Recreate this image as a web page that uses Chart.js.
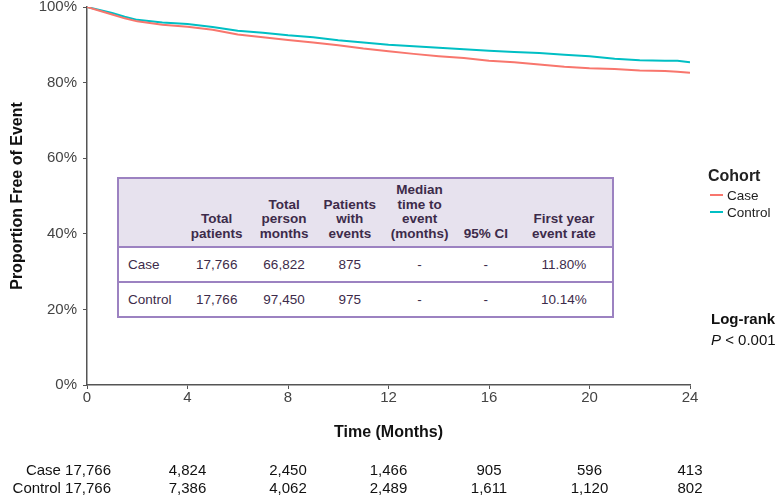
<!DOCTYPE html>
<html lang="en">

<head>
    <meta charset="UTF-8" />
    <title>Proportion Free of Event - Case vs Control</title>
    <script src="https://cdn.jsdelivr.net/npm/chart.js"></script>
    <style>
        body {
            margin: 0;
            background: #fff;
            font-family: "Liberation Sans", Arial, sans-serif;
        }

        .wrap {
            position: relative;
            width: 778px;
            height: 500px;
        }

        canvas {
            position: absolute;
            left: 0;
            top: 0;
        }

        .summary {
            position: absolute;
            left: 117px;
            top: 177px;
            width: 497px;
            border-collapse: collapse;
            border: 2px solid #9c82c1;
            color: #3d2b4a;
            font-size: 13.5px;
            background: #fff;
        }

        .summary th {
            background: #e7e2ee;
            font-weight: bold;
            line-height: 14.4px;
            vertical-align: bottom;
            padding: 0 0 5px 0;
            height: 62px;
            text-align: center;
        }

        .summary td {
            text-align: center;
            height: 33px;
            padding: 0;
            border-top: 2px solid #9c82c1;
        }

        .summary td:first-child {
            text-align: left;
            padding-left: 9px;
        }

        .legend {
            position: absolute;
            left: 708px;
            top: 167px;
            font-size: 13.5px;
            color: #222;
        }

        .legend .ttl {
            font-weight: bold;
            font-size: 16px;
            margin-bottom: 2px;
        }

        .legend .item {
            height: 17px;
            line-height: 17px;
            white-space: nowrap;
        }

        .legend .swatch {
            display: inline-block;
            width: 13px;
            height: 2px;
            vertical-align: middle;
            margin: 0 4px 2px 2px;
        }

        .logrank {
            position: absolute;
            left: 711px;
            top: 308px;
            font-size: 15px;
            color: #111;
            line-height: 21px;
        }
    </style>
</head>

<body>
    <div class="wrap">
        <canvas id="km" width="778" height="500"></canvas>

        <table class="summary" id="summary"></table>

        <div class="legend" id="legend"></div>

        <div class="logrank">
            <b>Log-rank</b><br>
            <i>P</i> &lt; 0.001
        </div>
    </div>

    <script>
        // curve values (months, % free of event)
        const months = [0, 0.5, 1, 1.5, 2, 3, 4, 5, 6, 7, 8, 9, 10, 11, 12, 13, 14, 15, 16, 17, 18, 19, 20, 21, 22, 23, 23.5, 24];
        const caseSurv = [100, 99.0, 98.0, 97.0, 96.2, 95.3, 94.8, 94.0, 92.7, 92.0, 91.3, 90.6, 89.9, 89.0, 88.3, 87.6, 87.0, 86.5, 85.8, 85.4, 84.8, 84.2, 83.8, 83.6, 83.2, 83.1, 82.9, 82.6];
        const controlSurv = [100, 99.2, 98.4, 97.4, 96.6, 95.9, 95.5, 94.7, 93.7, 93.2, 92.5, 92.0, 91.2, 90.6, 90.0, 89.6, 89.2, 88.8, 88.4, 88.1, 87.8, 87.4, 87.0, 86.3, 85.9, 85.8, 85.8, 85.4];

        const cohorts = ['Case', 'Control'];
        const cohortColors = ['#f8766d', '#00bfc4'];

        // numbers at risk
        const riskMonths = [0, 4, 8, 12, 16, 20, 24];
        const caseAtRisk = ['17,766', '4,824', '2,450', '1,466', '905', '596', '413'];
        const controlAtRisk = ['17,766', '7,386', '4,062', '2,489', '1,611', '1,120', '802'];

        // summary table
        const tableHeaders = [[''], ['Total', 'patients'], ['Total', 'person', 'months'], ['Patients', 'with', 'events'],
            ['Median', 'time to', 'event', '(months)'], ['95% CI'], ['First year', 'event rate']];
        const tableRows = [
            ['Case', '17,766', '66,822', '875', '-', '-', '11.80%'],
            ['Control', '17,766', '97,450', '975', '-', '-', '10.14%']
        ];
        const colWidths = [63, 70, 65, 67, 73, 60, 97];

        const fontFam = '"Liberation Sans", Arial, sans-serif';

        // table
        const tbl = document.getElementById('summary');
        let html = '<tr>' + tableHeaders.map((h, i) =>
            `<th style="width:${colWidths[i]}px">${h.join('<br>')}</th>`).join('') + '</tr>';
        tableRows.forEach(r => {
            html += '<tr>' + r.map(c => `<td>${c}</td>`).join('') + '</tr>';
        });
        tbl.innerHTML = html;

        // legend
        const lg = document.getElementById('legend');
        lg.innerHTML = '<div class="ttl">Cohort</div>' + cohorts.map((c, i) =>
            `<div class="item"><span class="swatch" style="background:${cohortColors[i]}"></span>${c}</div>`).join('');

        // numbers at risk under the axis
        const riskTable = {
            id: 'riskTable',
            afterDraw(chart) {
                const ctx = chart.ctx;
                const x = chart.scales.x;
                const base = chart.chartArea.bottom;
                const rows = [[cohorts[0], caseAtRisk, base + 86], [cohorts[1], controlAtRisk, base + 104]];
                ctx.save();
                ctx.font = '15px ' + fontFam;
                ctx.fillStyle = '#111';
                ctx.textBaseline = 'middle';
                rows.forEach(([name, vals, y]) => {
                    riskMonths.forEach((m, i) => {
                        if (i === 0) {
                            ctx.textAlign = 'right';
                            ctx.fillText(name + ' ' + vals[i], x.getPixelForValue(m) + 24, y);
                        } else {
                            ctx.textAlign = 'center';
                            ctx.fillText(vals[i], x.getPixelForValue(m), y);
                        }
                    });
                });
                ctx.restore();
            }
        };

        new Chart(document.getElementById('km'), {
            type: 'line',
            data: {
                datasets: [
                    {
                        label: cohorts[0],
                        data: months.map((m, i) => ({ x: m, y: caseSurv[i] })),
                        borderColor: cohortColors[0],
                        borderWidth: 2,
                        pointRadius: 0,
                        fill: false
                    },
                    {
                        label: cohorts[1],
                        data: months.map((m, i) => ({ x: m, y: controlSurv[i] })),
                        borderColor: cohortColors[1],
                        borderWidth: 2,
                        pointRadius: 0,
                        fill: false
                    }
                ]
            },
            options: {
                responsive: false,
                devicePixelRatio: 1,
                animation: false,
                layout: { padding: { top: 7, right: 88, bottom: 55, left: 0 } },
                plugins: {
                    legend: { display: false },
                    tooltip: { enabled: false }
                },
                scales: {
                    x: {
                        type: 'linear',
                        min: 0,
                        max: 24,
                        afterFit: s => { s.height = 60; },
                        ticks: { stepSize: 4, color: '#444', font: { family: fontFam, size: 15 }, padding: 0, maxRotation: 0 },
                        grid: { display: true, drawOnChartArea: false, tickLength: 4, color: '#555' },
                        border: { display: true, color: '#555', width: 1.5 },
                        title: {
                            display: true,
                            text: 'Time (Months)',
                            color: '#111',
                            font: { family: fontFam, size: 16, weight: 'bold' },
                            padding: { top: 0, bottom: 3 }
                        }
                    },
                    y: {
                        min: 0,
                        max: 100,
                        afterFit: s => { s.width = 87; s.paddingTop = 0; s.paddingBottom = 0; },
                        ticks: {
                            stepSize: 20,
                            color: '#444',
                            font: { family: fontFam, size: 15 },
                            padding: 6,
                            callback: v => v + '%'
                        },
                        grid: { display: true, drawOnChartArea: false, tickLength: 4, color: '#555' },
                        border: { display: true, color: '#555', width: 1.5 },
                        title: {
                            display: true,
                            text: 'Proportion Free of Event',
                            color: '#111',
                            font: { family: fontFam, size: 16, weight: 'bold' },
                            padding: { top: 8, bottom: 0 }
                        }
                    }
                }
            },
            plugins: [riskTable]
        });
    </script>
</body>

</html>
